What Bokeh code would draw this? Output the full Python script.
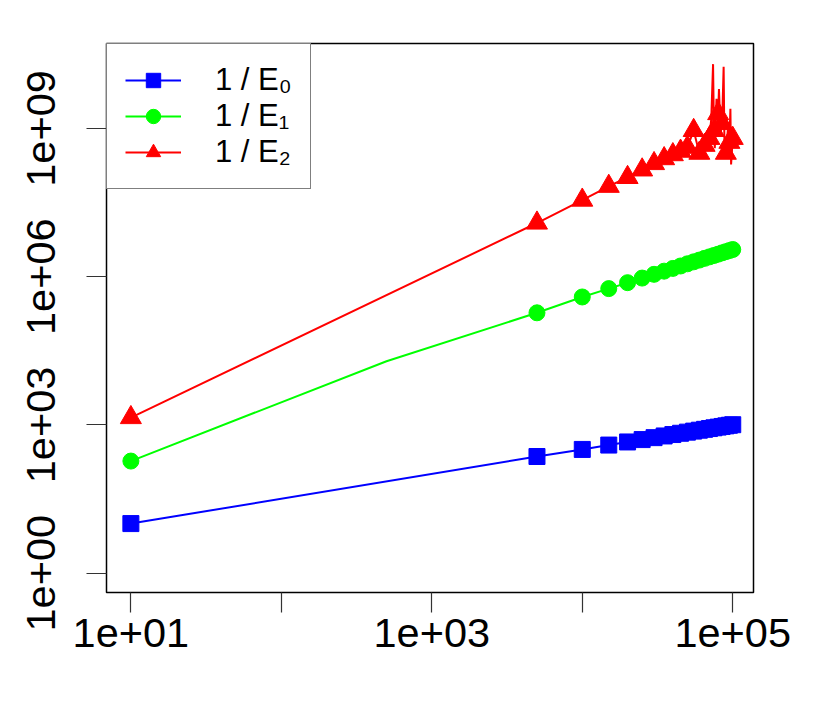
from bokeh.plotting import figure
from bokeh.models import Range1d, FixedTicker, Legend, LegendItem
from bokeh.embed import file_html
from bokeh.resources import INLINE

# ---- data ----
n = [10, 5000, 10000, 15000, 20000, 25000, 30000, 35000, 40000, 45000, 50000,
     55000, 60000, 65000, 70000, 75000, 80000, 85000, 90000, 95000, 100000]

e0 = [10.1, 230, 320, 392, 453, 506, 554, 599, 640, 679, 716,
      751, 784, 816, 847, 877, 905, 933, 960, 987, 1012]

e1 = [186, 186000, 389000, 574000, 757000, 938000, 1117000, 1295000, 1472000,
      1648000, 1824000, 2000000, 2170000, 2350000, 2520000, 2690000, 2860000,
      3040000, 3210000, 3380000, 3550000]
# extra line vertex (no marker) on the 1/E1 curve
n_e1_extra = [500]
e1_extra = [19500]

e2 = [1413, 1.22e7, 3.55e7, 6.76e7, 1.02e8, 1.45e8, 1.95e8, 2.45e8, 2.95e8,
      3.47e8, 4.17e8, 9.12e8, 3.16e8, 4.57e8, 6.31e8, 9.12e8, 2.0e9, 1.26e9,
      3.16e8, 5.25e8, 6.31e8]
# extra line vertices (no marker) on the noisy 1/E2 tail
n_e2_extra = [72000, 74000, 76000, 78000, 81000, 83000, 87000, 88000, 93000, 96500, 97500]
e2_extra = [1.58e9, 2.0e10, 3.98e8, 3.98e9, 6.31e9, 7.94e8, 1.78e10, 6.31e8, 1.0e9, 2.51e9, 1.86e8]

x_ticks = [10, 100, 1000, 10000, 100000]
x_tick_labels = ["1e+01", "", "1e+03", "", "1e+05"]
y_ticks = [1, 1000, 1000000, 1000000000]
y_tick_labels = ["1e+00", "1e+03", "1e+06", "1e+09"]

labels = ["1 / E\u2080", "1 / E\u2081", "1 / E\u2082"]
colors = ["#0000FF", "#00FF00", "#FF0000"]


def merged(xa, ya, xb, yb):
    pts = sorted(zip(list(xa) + list(xb), list(ya) + list(yb)))
    return [a for a, _ in pts], [b for _, b in pts]


p = figure(width=822, height=698, x_axis_type="log", y_axis_type="log",
           x_range=Range1d(10 ** 0.838, 10 ** 5.138),
           y_range=Range1d(10 ** -0.39, 10 ** 10.719),
           output_backend="svg", toolbar_location=None,
           min_border_left=106, min_border_right=69,
           min_border_top=43, min_border_bottom=106)

p.grid.visible = False
p.outline_line_color = "black"
p.outline_line_width = 1.5
p.background_fill_color = "white"
p.border_fill_color = "white"

p.xaxis.ticker = FixedTicker(ticks=x_ticks)
p.xaxis.major_label_overrides = {float(t): s for t, s in zip(x_ticks, x_tick_labels)}
p.yaxis.ticker = FixedTicker(ticks=y_ticks)
p.yaxis.major_label_overrides = {float(t): s for t, s in zip(y_ticks, y_tick_labels)}

for ax in (p.xaxis[0], p.yaxis[0]):
    ax.axis_line_color = None
    ax.minor_tick_line_color = None
    ax.major_tick_in = 0
    ax.major_tick_out = 20
    ax.major_tick_line_color = "#333333"
    ax.major_tick_line_width = 1.2
    ax.major_label_text_font = "Liberation Sans"
    ax.major_label_text_font_size = "41.5px"
    ax.major_label_text_color = "black"

p.xaxis.major_label_standoff = 6
p.yaxis.major_label_standoff = 31
p.yaxis.major_label_orientation = "vertical"

# series
l0 = p.line(n, e0, line_color=colors[0], line_width=2)
s0 = p.scatter(n, e0, marker="square", size=16, fill_color=colors[0], line_color=colors[0])

x1, y1 = merged(n, e1, n_e1_extra, e1_extra)
l1 = p.line(x1, y1, line_color=colors[1], line_width=2)
s1 = p.scatter(n, e1, marker="circle", size=16, fill_color=colors[1], line_color=colors[1])

x2, y2 = merged(n, e2, n_e2_extra, e2_extra)
l2 = p.line(x2, y2, line_color=colors[2], line_width=2)
s2 = p.scatter(n, e2, marker="triangle", size=21, fill_color=colors[2], line_color=colors[2])

legend = Legend(items=[LegendItem(label=labels[0], renderers=[l0, s0]),
                       LegendItem(label=labels[1], renderers=[l1, s1]),
                       LegendItem(label=labels[2], renderers=[l2, s2])],
                location="top_left", margin=0, padding=18, spacing=0,
                glyph_width=56, glyph_height=36, label_height=36,
                label_standoff=34, label_text_font="Liberation Sans",
                label_text_font_size="31px", label_text_color="black",
                border_line_color="black", border_line_width=1.5,
                background_fill_color="white", background_fill_alpha=1.0)
p.add_layout(legend)

open("out.html", "w").write(file_html(p, INLINE))
